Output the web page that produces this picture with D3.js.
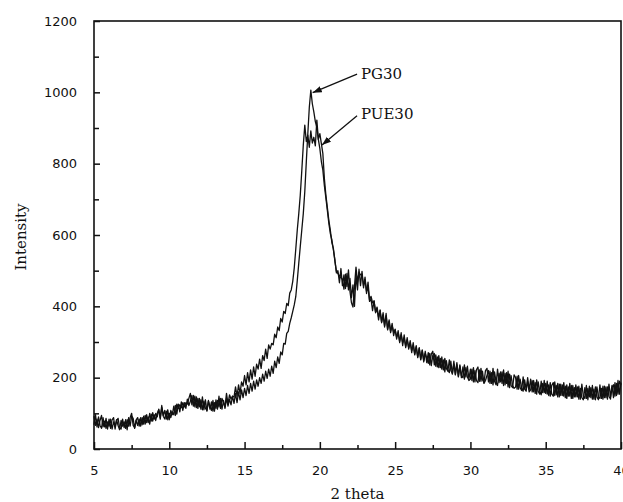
<!DOCTYPE html>
<html>
<head>
<meta charset="utf-8">
<script src="https://cdn.jsdelivr.net/npm/d3@7"></script>
<style>
  body { margin: 0; background: #fff; }
  svg { display: block; }
</style>
</head>
<body>
<div id="app"></div>
<script>
// 2 theta grid: 5.0 .. 40.0, step 0.1
const thetaStart = 5, thetaStep = 0.1;

// PG30 intensities (one value per 0.1 deg)
const pg30 = [
  92, 66, 84, 60, 80, 94, 62, 78, 58, 76,
  64, 84, 56, 76, 62, 82, 66, 54, 80, 64,
  76, 58, 82, 64, 88, 100, 66, 60, 80, 66,
  84, 64, 88, 70, 94, 74, 90, 70, 98, 78,
  96, 80, 100, 110, 84, 116, 92, 84, 106, 82,
  100, 88, 104, 96, 122, 98, 126, 104, 132, 108,
  130, 114, 140, 122, 134, 150, 120, 148, 116, 142,
  118, 138, 110, 134, 114, 108, 136, 112, 132, 106,
  130, 114, 136, 118, 142, 112, 136, 114, 142, 120,
  140, 124, 148, 128, 156, 130, 160, 138, 166, 144,
  170, 150, 178, 156, 184, 162, 190, 168, 194, 176,
  200, 184, 210, 190, 218, 198, 224, 204, 232, 212,
  246, 228, 258, 240, 272, 264, 296, 294, 324, 330,
  352, 368, 386, 404, 427, 472, 521, 568, 614, 660,
  722, 805, 884, 958, 1006, 968, 945, 918, 902, 868,
  842, 806, 782, 738, 704, 668, 632, 603, 586, 558,
  530, 494, 500, 466, 506, 458, 488, 450, 492, 446,
  478, 424, 460, 400, 488, 446, 504, 458, 498, 452,
  482, 436, 468, 418, 428, 410, 414, 384, 398, 370,
  388, 356, 382, 346, 374, 336, 362, 330, 346, 328,
  334, 314, 326, 302, 320, 298, 312, 288, 306, 284,
  298, 276, 292, 266, 286, 258, 284, 252, 278, 248,
  274, 242, 270, 236, 266, 274, 236, 264, 230, 262,
  228, 258, 222, 254, 226, 218, 250, 220, 212, 246,
  210, 242, 204, 236, 206, 200, 236, 202, 232, 196,
  224, 192, 228, 188, 222, 230, 190, 226, 194, 186,
  220, 226, 188, 218, 184, 226, 190, 180, 224, 186,
  216, 184, 222, 180, 214, 174, 210, 178, 172, 208,
  200, 168, 206, 172, 164, 202, 168, 162, 200, 166,
  196, 160, 192, 156, 194, 162, 154, 190, 158, 192,
  156, 190, 150, 186, 154, 148, 188, 152, 184, 146,
  182, 150, 186, 144, 180, 148, 184, 142, 178, 146,
  180, 146, 176, 140, 182, 148, 142, 178, 138, 176,
  144, 178, 140, 174, 146, 138, 180, 142, 176, 144,
  174, 140, 182, 146, 178, 144, 186, 150, 192, 154,
  186
];

// PUE30 intensities (same grid)
const pue30 = [
  68, 96, 62, 90, 66, 58, 88, 62, 86, 56,
  84, 58, 82, 88, 56, 80, 86, 60, 56, 84,
  60, 82, 54, 88, 64, 92, 86, 58, 82, 88,
  64, 88, 68, 92, 70, 96, 74, 100, 78, 102,
  84, 100, 90, 112, 88, 122, 94, 108, 84, 110,
  82, 108, 96, 120, 94, 126, 114, 124, 116, 130,
  118, 130, 126, 142, 156, 124, 150, 118, 146, 114,
  142, 112, 146, 110, 138, 106, 134, 120, 108, 136,
  106, 138, 112, 148, 114, 142, 130, 118, 156, 126,
  152, 140, 148, 146, 174, 148, 180, 156, 188, 176,
  206, 180, 214, 188, 222, 196, 230, 204, 238, 224,
  252, 226, 262, 248, 280, 254, 292, 280, 296, 292,
  322, 312, 342, 332, 366, 356, 386, 380, 408, 402,
  437, 446, 470, 508, 560, 614, 660, 712, 780, 852,
  908, 862, 880, 846, 892, 858, 874, 850, 922, 868,
  884, 856, 828, 758, 712, 676, 640, 612, 578, 562,
  526, 498, 492, 486, 480, 476, 448, 490, 456, 502,
  442, 410, 398, 456, 510, 468, 496, 488, 490, 458,
  474, 442, 452, 414, 420, 388, 416, 382, 394, 362,
  390, 354, 376, 342, 380, 334, 358, 326, 352, 318,
  336, 308, 332, 298, 326, 290, 320, 284, 312, 280,
  304, 270, 298, 264, 290, 256, 282, 250, 276, 244,
  268, 254, 240, 268, 234, 262, 268, 232, 258, 228,
  254, 224, 250, 216, 248, 222, 214, 246, 210, 238,
  208, 236, 202, 232, 200, 230, 196, 228, 202, 192,
  196, 224, 188, 220, 192, 186, 222, 190, 218, 184,
  192, 206, 220, 184, 214, 180, 216, 188, 178, 212,
  188, 216, 178, 212, 184, 218, 172, 206, 178, 170,
  174, 204, 168, 196, 172, 162, 194, 166, 190, 160,
  166, 192, 160, 186, 154, 188, 162, 152, 184, 158,
  184, 154, 180, 148, 178, 186, 150, 178, 146, 182,
  150, 180, 148, 176, 142, 174, 148, 178, 142, 172,
  146, 174, 140, 170, 144, 138, 172, 142, 170, 146,
  172, 140, 168, 138, 174, 146, 142, 170, 140, 176,
  144, 174, 148, 140, 172, 180, 148, 184, 154, 190,
  180
];

const xTicks = [5, 10, 15, 20, 25, 30, 35, 40];
const xMinor = [7.5, 12.5, 17.5, 22.5, 27.5, 32.5, 37.5];
const yTicks = [0, 200, 400, 600, 800, 1000, 1200];
const yMinor = [100, 300, 500, 700, 900, 1100];

// labels with arrow: [text, label x, label y, arrow from x, from y, to x, to y] (data units)
const notes = [
  ["PG30", 22.73, 1037, 22.47, 1051, 19.52, 999],
  ["PUE30", 22.73, 925, 22.47, 934, 20.14, 852]
];

const W = 623, H = 502;
const margin = { top: 21, right: 2, bottom: 53, left: 94 };

const svg = d3.select("#app").append("svg")
  .attr("width", W).attr("height", H);

const x = d3.scaleLinear().domain([5, 40]).range([margin.left, W - margin.right]);
const y = d3.scaleLinear().domain([0, 1200]).range([H - margin.bottom, margin.top]);

const toPoints = (arr) => arr.map((v, i) => [thetaStart + i * thetaStep, v]);

// curves
const line = d3.line().x((d) => x(d[0])).y((d) => y(d[1]));
[pue30, pg30].forEach((s) => {
  svg.append("path")
    .datum(toPoints(s))
    .attr("fill", "none")
    .attr("stroke", "#111")
    .attr("stroke-width", 1.3)
    .attr("stroke-linejoin", "round")
    .attr("d", line);
});

// frame
svg.append("rect")
  .attr("x", x(5)).attr("y", y(1200))
  .attr("width", x(40) - x(5)).attr("height", y(0) - y(1200))
  .attr("fill", "none").attr("stroke", "#111").attr("stroke-width", 1.6);

// x axis (ticks pointing inward)
const xAxis = svg.append("g").attr("transform", `translate(0,${y(0)})`);
xAxis.call(d3.axisBottom(x).tickValues(xTicks).tickFormat(d3.format("d"))
  .tickSizeInner(-7).tickSizeOuter(0).tickPadding(17));
xAxis.append("g").call(d3.axisBottom(x).tickValues(xMinor).tickSizeInner(-4).tickSizeOuter(0).tickFormat(""));

const yAxis = svg.append("g").attr("transform", `translate(${x(5)},0)`);
yAxis.call(d3.axisLeft(y).tickValues(yTicks).tickFormat(d3.format("d"))
  .tickSizeInner(-6).tickSizeOuter(0).tickPadding(17));
yAxis.append("g").call(d3.axisLeft(y).tickValues(yMinor).tickSizeInner(-5).tickSizeOuter(0).tickFormat(""));

svg.selectAll(".domain").remove();
svg.selectAll(".tick line").attr("stroke", "#111").attr("stroke-width", 1.5);
svg.selectAll(".tick text")
  .attr("fill", "#111")
  .style("font-family", "'DejaVu Sans', Verdana, sans-serif")
  .style("font-size", "13px");

// axis titles
svg.append("text")
  .attr("x", (x(5) + x(40)) / 2).attr("y", 499)
  .attr("text-anchor", "middle")
  .style("font-family", "'DejaVu Serif', serif").style("font-size", "15px")
  .attr("fill", "#111")
  .text("2 theta");

svg.append("text")
  .attr("transform", `translate(26,${(y(0) + y(1200)) / 2 + 2}) rotate(-90)`)
  .attr("text-anchor", "middle")
  .style("font-family", "'DejaVu Serif', serif").style("font-size", "15px")
  .attr("fill", "#111")
  .text("Intensity");

// arrow annotations
svg.append("defs").append("marker")
  .attr("id", "arrow")
  .attr("viewBox", "0 0 10 10").attr("refX", 10).attr("refY", 5)
  .attr("markerWidth", 7).attr("markerHeight", 7)
  .attr("orient", "auto")
  .append("path").attr("d", "M0,1.5 L10,5 L0,8.5 z").attr("fill", "#111");

notes.forEach((n) => {
  svg.append("line")
    .attr("x1", x(n[3])).attr("y1", y(n[4]))
    .attr("x2", x(n[5])).attr("y2", y(n[6]))
    .attr("stroke", "#111").attr("stroke-width", 1.3)
    .attr("marker-end", "url(#arrow)");
  svg.append("text")
    .attr("x", x(n[1])).attr("y", y(n[2]))
    .style("font-family", "'DejaVu Serif', serif").style("font-size", "15px")
    .attr("fill", "#111")
    .text(n[0]);
});
</script>
</body>
</html>
